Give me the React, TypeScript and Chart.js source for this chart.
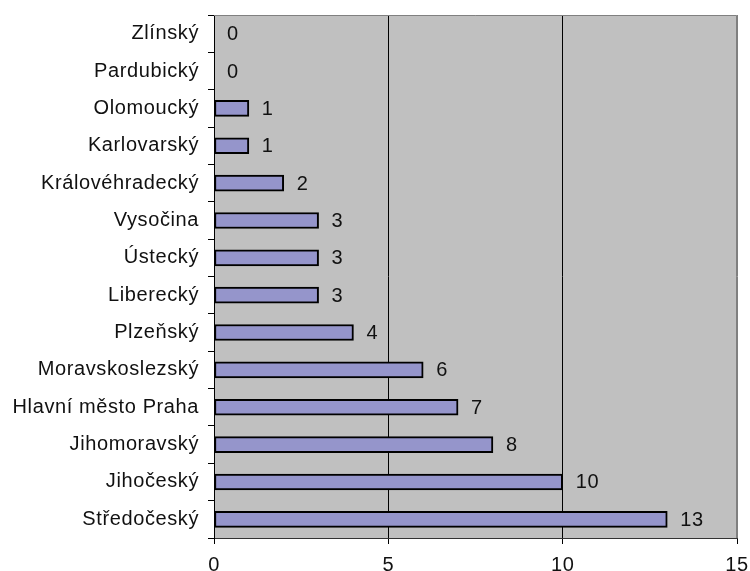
import React, { useEffect, useRef } from "react";
import { Chart, registerables } from "chart.js";

Chart.register(...registerables);

const categories = [
  "Zlínský",
  "Pardubický",
  "Olomoucký",
  "Karlovarský",
  "Královéhradecký",
  "Vysočina",
  "Ústecký",
  "Liberecký",
  "Plzeňský",
  "Moravskoslezský",
  "Hlavní město Praha",
  "Jihomoravský",
  "Jihočeský",
  "Středočeský",
];
const values = [0, 0, 1, 1, 2, 3, 3, 3, 4, 6, 7, 8, 10, 13];
const xMin = 0;
const xMax = 15;
const xStep = 5;

const FONT_FAMILY = "'Liberation Sans', Arial, sans-serif";
const FONT_SIZE = 20;
const LETTER_SPACING = "0.6px";

const spacingPlugin = {
  id: "spacing",
  beforeUpdate(chart: any) {
    (chart.ctx as any).letterSpacing = LETTER_SPACING;
  },
  beforeLayout(chart: any) {
    (chart.ctx as any).letterSpacing = LETTER_SPACING;
  },
  beforeDraw(chart: any) {
    (chart.ctx as any).letterSpacing = LETTER_SPACING;
  },
};

const bgPlugin = {
  id: "plotBg",
  beforeDraw(chart: any) {
    const { ctx, chartArea } = chart;
    ctx.save();
    ctx.fillStyle = "#C0C0C0";
    ctx.fillRect(
      chartArea.left,
      chartArea.top,
      chartArea.right - chartArea.left,
      chartArea.bottom - chartArea.top
    );
    ctx.restore();
  },
  afterDraw(chart: any) {
    const { ctx, chartArea } = chart;
    ctx.save();
    ctx.strokeStyle = "#808080";
    ctx.lineWidth = 1;
    ctx.beginPath();
    ctx.moveTo(chartArea.left, chartArea.top + 0.5);
    ctx.lineTo(chartArea.right - 0.5, chartArea.top + 0.5);
    ctx.lineTo(chartArea.right - 0.5, chartArea.bottom);
    ctx.stroke();
    ctx.restore();
  },
};

const labelPlugin = {
  id: "valueLabels",
  afterDatasetsDraw(chart: any) {
    const { ctx } = chart;
    const meta = chart.getDatasetMeta(0);
    const data = chart.data.datasets[0].data as number[];
    ctx.save();
    (ctx as any).letterSpacing = LETTER_SPACING;
    ctx.fillStyle = "#111";
    ctx.font = `${FONT_SIZE}px ${FONT_FAMILY}`;
    ctx.textAlign = "left";
    ctx.textBaseline = "middle";
    meta.data.forEach((bar: any, i: number) => {
      ctx.fillText(String(data[i]), bar.x + 13, bar.y + 1);
    });
    ctx.restore();
  },
};

export default function App() {
  const ref = useRef<HTMLCanvasElement | null>(null);

  useEffect(() => {
    document.body.style.margin = "0";
    const canvas = ref.current!;
    const chart = new Chart(canvas, {
      type: "bar",
      data: {
        labels: categories,
        datasets: [
          {
            data: values,
            backgroundColor: "#9595CB",
            borderColor: "#000",
            borderWidth: 2,
            borderSkipped: false,
            barThickness: 16,
          },
        ],
      },
      options: {
        indexAxis: "y",
        responsive: false,
        animation: false,
        devicePixelRatio: 1,
        layout: { padding: { top: 15, right: 13, left: 0, bottom: 0 } },
        plugins: {
          legend: { display: false },
          tooltip: { enabled: false },
          title: { display: false },
        },
        scales: {
          x: {
            type: "linear",
            min: xMin,
            max: xMax,
            ticks: {
              stepSize: xStep,
              color: "#111",
              font: { family: FONT_FAMILY, size: FONT_SIZE },
              padding: 9,
              maxRotation: 0,
            },
            grid: {
              color: (c: any) =>
                c.tick && c.tick.value === xMax ? "#808080" : "#000",
              tickColor: "#000",
              tickLength: 6,
              lineWidth: 1,
            },
            border: { color: "#333", width: 1 },
            afterFit(scale: any) {
              scale.height = 33;
              scale.paddingLeft = 0;
              scale.paddingRight = 0;
            },
          },
          y: {
            type: "category",
            ticks: {
              color: "#111",
              font: { family: FONT_FAMILY, size: FONT_SIZE },
              padding: 9,
              autoSkip: false,
            },
            grid: {
              offset: true,
              drawOnChartArea: false,
              drawTicks: true,
              tickLength: 6,
              tickColor: "#000",
              color: "#000",
            },
            border: { color: "#000", width: 1 },
            afterFit(scale: any) {
              scale.width = 214;
              scale.paddingTop = 0;
              scale.paddingBottom = 0;
            },
          },
        },
      } as any,
      plugins: [spacingPlugin, bgPlugin, labelPlugin],
    });
    return () => chart.destroy();
  }, []);

  return (
    <div style={{ width: 750, height: 571, background: "#fff" }}>
      <canvas ref={ref} width={750} height={571} style={{ display: "block" }} />
    </div>
  );
}
